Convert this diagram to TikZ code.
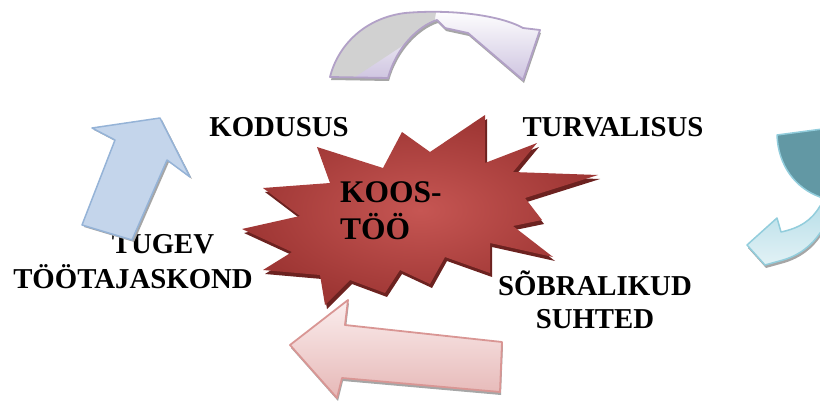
\documentclass[tikz,border=0pt]{standalone}
\usepackage{fontspec}
\setmainfont{Liberation Serif}

\definecolor{burstface}{RGB}{198,86,83}
\definecolor{burstedge}{RGB}{158,54,52}
\definecolor{burstshade}{RGB}{108,34,32}
\definecolor{lilacline}{RGB}{178,161,199}
\definecolor{lilacfill}{RGB}{206,196,224}
\definecolor{greyfill}{RGB}{209,209,209}
\definecolor{tealdark}{RGB}{98,152,164}
\definecolor{tealline}{RGB}{146,205,220}
\definecolor{teallight}{RGB}{183,222,232}
\definecolor{blueline}{RGB}{149,179,215}
\definecolor{bluefill}{RGB}{196,213,235}
\definecolor{bluelight}{RGB}{228,236,246}
\definecolor{pinkline}{RGB}{217,150,148}
\definecolor{pinkfill}{RGB}{230,184,183}
\definecolor{pinklight}{RGB}{251,238,238}

% outline of the arrow over the top
\newcommand\toparrowpath{(330,77) .. controls (338,45) and (365,18) .. (405,13)
  .. controls (450,9) and (500,15) .. (523,28) -- (540,30) -- (523,80)
  -- (468,33) -- (445,28) -- (437,20)
  .. controls (418,26) and (396,48) .. (388,78) -- cycle}

\begin{document}
\begin{tikzpicture}
  [x=1pt,y=-1pt,line join=round,
   every node/.style={inner sep=0pt,font=\bfseries\fontsize{28.8}{33}\selectfont},
   arrowshade/.style={fill=black!35},
   burstshadow/.style={fill=burstshade},
   burstfill/.style={inner color=burstface,outer color=burstedge}]
  \useasboundingbox (0,0) rectangle (820,401);

  \node[anchor=base] (tugev) at (163,253) {TUGEV};

  % top arrow
  \path[arrowshade,shift={(1,3)}] \toparrowpath;
  \path[top color=white,bottom color=lilacfill] \toparrowpath;
  \begin{scope}
    \clip \toparrowpath;
    \fill[greyfill] (320,0) -- (438,0) -- (434,25) -- (320,100) -- cycle;
  \end{scope}
  \draw[lilacline,line width=1.8pt] \toparrowpath;

  % right arrow
  \begin{scope}
    \clip (0,0) rectangle (820,401);
    \fill[arrowshade,shift={(1,3)}] (830,202) -- (820,206) .. controls (812,220) and (800,228) .. (781,232)
      -- (777,218) -- (747,245) -- (765,265) -- (783,260)
      .. controls (800,255) and (812,245) .. (820,233) -- (830,225) -- cycle;
    \draw[tealline,line width=1.5pt,fill=tealdark] (777,135) -- (830,128) -- (830,200) -- (820,197)
      .. controls (795,188) and (778,165) .. (777,135) -- cycle;
    \draw[tealline,line width=1.5pt,top color=teallight,bottom color=white!60!teallight]
      (830,202) -- (820,206) .. controls (812,220) and (800,228) .. (781,232)
      -- (777,218) -- (747,245) -- (765,265) -- (783,260)
      .. controls (800,255) and (812,245) .. (820,233) -- (830,225) -- cycle;
  \end{scope}

  % left arrow
  \fill[arrowshade,shift={(2,2)}] (92,128) -- (160,118) -- (190,177) -- (167,160)
    -- (132,240) -- (82,225) -- (115,140) -- cycle;
  \draw[blueline,line width=1.5pt,left color=bluefill,middle color=bluelight,right color=bluefill]
    (92,128) -- (160,118) -- (190,177) -- (167,160)
    -- (132,240) -- (82,225) -- (115,140) -- cycle;

  % bottom arrow
  \fill[arrowshade,shift={(1,3)}] (290,345) -- (348,300) -- (345,325) -- (502,342)
    -- (500,392) -- (342,378) -- (337,398) -- cycle;
  \draw[pinkline,line width=1.8pt,top color=pinklight,bottom color=pinkfill]
    (290,345) -- (348,300) -- (345,325) -- (502,342)
    -- (500,392) -- (342,378) -- (337,398) -- cycle;

  % starburst
  \foreach \s/\dx/\dy in {burstshadow/2/4,burstfill/0/0}
    \path[\s,shift={(\dx,\dy)}] (242,229) -- (300,216) -- (263,188) -- (330,183)
      -- (317,147) -- (383,168) -- (402,132) -- (430,152) -- (485,115)
      -- (485,163) -- (537,143) -- (513,172) -- (598,175) -- (525,198)
      -- (542,220) -- (513,226) -- (553,257) -- (490,243) -- (490,273)
      -- (445,257) -- (430,284) -- (400,270) -- (385,293) -- (350,280)
      -- (325,305) -- (320,275) -- (263,270) -- (292,252) -- cycle;

  \node[anchor=base] (kodusus) at (279,137) {KODUSUS};
  \node[anchor=base] (turvalisus) at (613,137) {TURVALISUS};
  \node[anchor=base] (tootajaskond) at (133,288) {TÖÖTAJASKOND};
  \node[anchor=base,align=center] (sobralikud) at (595,328) {SÕBRALIKUD\\SUHTED};
  \node[anchor=base west,align=left,font=\bfseries\fontsize{31.5}{37}\selectfont]
    (koostoo) at (340,240) {KOOS-\\TÖÖ};
\end{tikzpicture}
\end{document}
